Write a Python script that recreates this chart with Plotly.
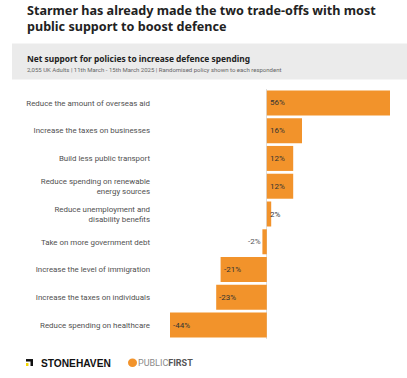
import plotly.graph_objects as go

categories = [
    "Reduce the amount of overseas aid",
    "Increase the taxes on businesses",
    "Build less public transport",
    "Reduce spending on renewable<br>energy sources",
    "Reduce unemployment and<br>disability benefits",
    "Take on more government debt",
    "Increase the level of immigration",
    "Increase the taxes on individuals",
    "Reduce spending on healthcare",
]
values = [56, 16, 12, 12, 2, -2, -21, -23, -44]

title_text = "Starmer has already made the two trade-offs with most<br>public support to boost defence"
subtitle_text = "Net support for policies to increase defence spending"
note_text = "2,055 UK Adults | 11th March - 15th March 2025 | Randomised policy shown to each respondent"

W, H = 407, 378
PL, PR, PT, PB = 170, 390, 88.6, 339.4   # plot area in page pixels
L, R, T, B = PL, W - PR, PT, H - PB
PW, PH = PR - PL, PB - PT

def px(x):
    return (x - PL) / PW

def py(y):
    return 1 - (y - PT) / PH

ORANGE = "#f2932b"

fig = go.Figure()
fig.add_trace(go.Bar(
    x=values, y=categories, orientation="h",
    marker=dict(color=ORANGE, line=dict(width=0)),
    hoverinfo="skip",
))

annotations = []
for c, v in zip(categories, values):
    if v >= 0:
        annotations.append(dict(x=0, y=c, xref="x", yref="y", text=f"{v}%",
                                xanchor="left", xshift=1, showarrow=False,
                                font=dict(family="Roboto", size=8, color="#333333")))
    elif abs(v) < 5:
        annotations.append(dict(x=v, y=c, xref="x", yref="y", text=f"{v}%",
                                xanchor="right", xshift=1, showarrow=False,
                                font=dict(family="Roboto", size=8, color="#555555")))
    else:
        annotations.append(dict(x=v, y=c, xref="x", yref="y", text=f"{v}%",
                                xanchor="left", xshift=1, showarrow=False,
                                font=dict(family="Roboto", size=8, color="#333333")))

annotations += [
    dict(x=px(25), y=py(17.5), xref="paper", yref="paper", text=f"<b>{title_text}</b>",
         xanchor="left", yanchor="middle", align="left", showarrow=False,
         font=dict(family="Noto Sans", size=12.6, color="#222222")),
    dict(x=px(25), y=py(58), xref="paper", yref="paper", text=f"<b>{subtitle_text}</b>",
         xanchor="left", yanchor="middle", showarrow=False,
         font=dict(family="Noto Sans", size=8.4, color="#222222")),
    dict(x=px(25), y=py(69.5), xref="paper", yref="paper", text=note_text,
         xanchor="left", yanchor="middle", showarrow=False,
         font=dict(family="Roboto", size=6.0, color="#666666")),
    dict(x=px(39), y=py(363.5), xref="paper", yref="paper", text="<b>STONEHAVEN</b>",
         xanchor="left", yanchor="middle", showarrow=False,
         font=dict(family="Liberation Sans", size=10.2, color="#111111")),
    dict(x=px(135.5), y=py(363.5), xref="paper", yref="paper",
         text="<span style='color:#8a8a8a'>PUBLIC</span><b>FIRST</b>",
         xanchor="left", yanchor="middle", showarrow=False,
         font=dict(family="Roboto", size=9, color="#555555")),
]

shapes = [
    dict(type="rect", xref="paper", yref="paper", x0=px(12), x1=px(407), y0=py(79), y1=py(43),
         fillcolor="#ebebeb", line=dict(width=0), layer="below"),
    # Stonehaven icon
    dict(type="rect", xref="paper", yref="paper", x0=px(26), x1=px(33), y0=py(362), y1=py(359.5),
         fillcolor="#111111", line=dict(width=0)),
    dict(type="rect", xref="paper", yref="paper", x0=px(30.5), x1=px(33), y0=py(366.5), y1=py(361),
         fillcolor="#111111", line=dict(width=0)),
    dict(type="rect", xref="paper", yref="paper", x0=px(26), x1=px(28.5), y0=py(366.5), y1=py(363.5),
         fillcolor="#f5d800", line=dict(width=0)),
    # Public First icon
    dict(type="circle", xref="paper", yref="paper", x0=px(128), x1=px(137), y0=py(367.5), y1=py(359),
         fillcolor=ORANGE, line=dict(width=0)),
]

fig.update_layout(
    width=W, height=H,
    margin=dict(l=L, r=R, t=T, b=B, pad=0),
    paper_bgcolor="white", plot_bgcolor="white",
    showlegend=False, bargap=0.1,
    annotations=annotations, shapes=shapes,
    xaxis=dict(range=[-44, 56], showgrid=False, showticklabels=False, ticks="",
               zeroline=True, zerolinecolor="#dddddd", zerolinewidth=1, fixedrange=True),
    yaxis=dict(range=[8.5, -0.5], type="category", categoryorder="array", categoryarray=categories,
               showgrid=False, ticks="", ticklabelstandoff=19, zeroline=False, fixedrange=True,
               tickfont=dict(family="Roboto", size=7.9, color="#505050")),
)

fig.write_html("out.html", config={"displayModeBar": False, "staticPlot": True},
               post_script="document.body.style.margin='0px';")
